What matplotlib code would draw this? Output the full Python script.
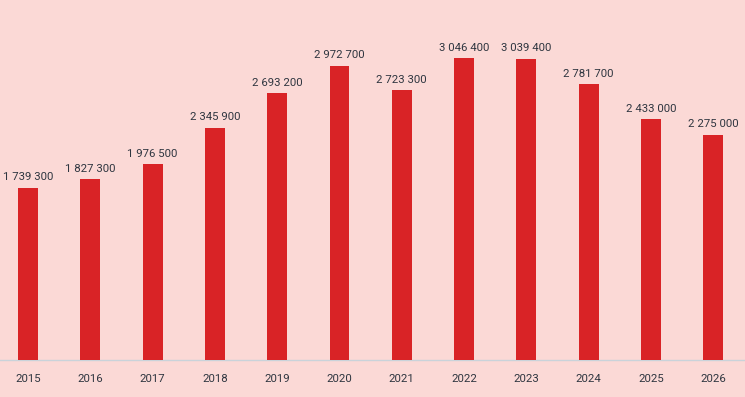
import matplotlib
matplotlib.use('Agg')
import matplotlib.pyplot as plt

years = ['2015', '2016', '2017', '2018', '2019', '2020',
         '2021', '2022', '2023', '2024', '2025', '2026']
values = [1739300, 1827300, 1976500, 2345900, 2693200, 2972700,
          2723300, 3046400, 3039400, 2781700, 2433000, 2275000]

bg = '#fbd9d6'
red = '#d92326'
txt = '#2f3640'

fig = plt.figure(figsize=(7.45, 3.97), dpi=100)
fig.patch.set_facecolor(bg)
ax = fig.add_axes([0, 37 / 397, 1, 360 / 397])
ax.set_facecolor(bg)

x = list(range(len(years)))
ax.bar(x, values, width=0.32, color=red, zorder=3)

# value labels above bars, space as thousands separator
for xi, v in zip(x, values):
    label = f'{v:,}'.replace(',', ' ')
    ax.text(xi, v + 55000, label, ha='center', va='bottom',
            fontsize=8.2, color=txt, family='Roboto')

ax.set_xlim(-0.45, 11.51)
ax.set_ylim(0, 3634000)
ax.set_xticks(x)
ax.set_xticklabels(years, fontsize=8.2, color=txt, family='Roboto')
ax.tick_params(axis='x', length=0, pad=10)
ax.set_yticks([])
for side in ['top', 'left', 'right']:
    ax.spines[side].set_visible(False)
ax.spines['bottom'].set_color('#c9d3da')
ax.spines['bottom'].set_linewidth(1)

plt.savefig('out.png', dpi=100, facecolor=bg)
